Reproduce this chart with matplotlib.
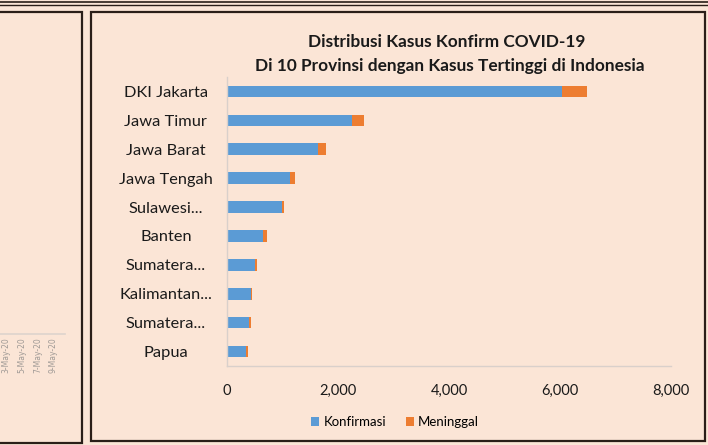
import matplotlib
matplotlib.use("Agg")
import matplotlib.pyplot as plt
from matplotlib.patches import Rectangle
from matplotlib.lines import Line2D

# ---- data ----
provinces = ["DKI Jakarta", "Jawa Timur", "Jawa Barat", "Jawa Tengah", "Sulawesi...",
             "Banten", "Sumatera...", "Kalimantan...", "Sumatera...", "Papua"]
konfirmasi = [6030, 2247, 1634, 1135, 991, 654, 498, 427, 391, 342]
meninggal = [465, 227, 156, 84, 40, 70, 37, 29, 36, 42]
xticks_vals = [0, 2000, 4000, 6000, 8000]
xtick_labels = ["0", "2,000", "4,000", "6,000", "8,000"]
left_dates = ["3-May-20", "5-May-20", "7-May-20", "9-May-20"]
title1 = "Distribusi Kasus Konfirm COVID-19"
title2 = "Di 10 Provinsi dengan Kasus Tertinggi di Indonesia"

BG = "#FBE5D6"
BLUE = "#5B9BD5"
ORANGE = "#ED7D31"
W, H = 708, 445
plt.rcParams["font.family"] = ["Lato", "DejaVu Sans"]

fig = plt.figure(figsize=(W / 100, H / 100), dpi=100, facecolor=BG)

def fx(px):
    return px / W

def fy(py):
    return 1 - py / H

# frames
frame_col = "#2a1e18"
fig.add_artist(Line2D([0, 1], [fy(1.5), fy(1.5)], transform=fig.transFigure, color=frame_col, lw=1.2))
fig.add_artist(Line2D([0, 1], [fy(5), fy(5)], transform=fig.transFigure, color=frame_col, lw=1.0))
fig.add_artist(Rectangle((fx(-10), fy(443)), fx(92), fy(12) - fy(443), transform=fig.transFigure,
                         fill=False, ec=frame_col, lw=1.6))
fig.add_artist(Rectangle((fx(91), fy(441)), fx(705) - fx(91), fy(12) - fy(441), transform=fig.transFigure,
                         fill=False, ec=frame_col, lw=1.6))

# left mini panel remnant
axl = fig.add_axes([0, fy(334), fx(65), 0.001])
axl.set_facecolor("none")
for s in ["top", "left", "right"]:
    axl.spines[s].set_visible(False)
axl.spines["bottom"].set_color("#ddd3cd")
axl.spines["bottom"].set_linewidth(1.2)
axl.set_yticks([])
idx = list(range(len(left_dates)))
axl.set_xticks(idx)
axl.set_xticklabels(left_dates, rotation=90, fontsize=5.5, color="#a09a96", family="DejaVu Sans")
axl.tick_params(axis="x", length=0, pad=2)
axl.set_xlim(-0.38, 3.76)

# main chart
ax = fig.add_axes([fx(227), fy(366), fx(671) - fx(227), fy(77) - fy(366)])
ax.set_facecolor("none")
y = list(range(len(provinces)))
ax.barh(y, konfirmasi, height=0.4, color=BLUE, label="Konfirmasi")
ax.barh(y, meninggal, left=konfirmasi, height=0.4, color=ORANGE, label="Meninggal")
ax.set_ylim(9.5, -0.5)
ax.set_xlim(0, 8000)
ax.set_yticks(y)
ax.set_yticklabels(provinces, fontsize=11.8, color="#1a1a1a", ha="center")
ax.tick_params(axis="y", length=0, pad=44)
ax.set_xticks(xticks_vals)
ax.set_xticklabels(xtick_labels, fontsize=10.5, color="#1a1a1a")
ax.tick_params(axis="x", length=0, pad=13)
for s in ["top", "right"]:
    ax.spines[s].set_visible(False)
for s in ["left", "bottom"]:
    ax.spines[s].set_color("#d9d0cb")
    ax.spines[s].set_linewidth(1.0)

fig.text(fx(447), fy(42), title1, ha="center", va="center", fontsize=12.4, fontweight="bold", color="#1a1a1a")
fig.text(fx(450), fy(66), title2, ha="center", va="center", fontsize=12.4, fontweight="bold", color="#1a1a1a")

fig.legend(loc="center", bbox_to_anchor=(fx(395), fy(422)), ncol=2, frameon=False, fontsize=9.5,
           handlelength=0.6, handleheight=0.6, handletextpad=0.3, columnspacing=1.5)

fig.savefig("out.png", dpi=100, facecolor=BG)
